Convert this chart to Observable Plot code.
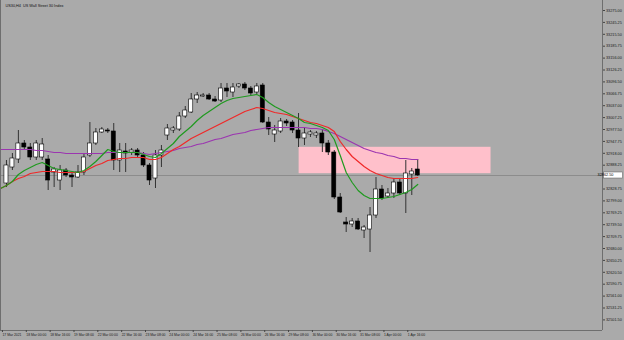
<!DOCTYPE html>
<html><head><meta charset="utf-8">
<script src="https://cdn.jsdelivr.net/npm/d3@7"></script>
<script src="https://cdn.jsdelivr.net/npm/@observablehq/plot@0.6"></script>
<style>
html,body{margin:0;padding:0;background:#aaaaaa;}
#chart{width:624px;height:340px;overflow:hidden;}
</style>
</head><body><div id="chart"></div>
<script>
const title = "US30,H4  US Wall Street 30 Index";

// Candles (bar index = position in array)
const opens  = [32842.5,32882.5,32902.5,32942.5,32932.5,32907.5,32907.5,32902.5,32870,32850,
                32875,32862.5,32857.5,32870,32912.5,32942.5,32970,32975,32972.5,32900,
                32922.5,32920,32925,32912.5,32887.5,32855,32912.5,32962.5,32975,32977.5,
                33010,33020,33052.5,33060,33062.5,33052.5,33050,33080,33070,33085,
                33090,33080,33070,33087.5,32995,32965,32972.5,32997.5,32995,32975,
                32955,32965,32962.5,32967.5,32942.5,32920,32807.5,32745,32740,32747.5,
                32725,32727.5,32762.5,32827.5,32810,32817.5,32845,32817.5,32865,32877.5];
const highs  = [32900,32917.5,32975,32950,32942.5,32950,32955,32912.5,32882.5,32887.5,
                32880,32870,32887.5,32917.5,32995,32980,32982.5,32980,32992.5,32942.5,
                32942.5,32930,32930,32920,32892.5,32925,32937.5,32990,32985,33020,
                33035,33067.5,33070,33067.5,33067.5,33060,33092.5,33092.5,33092.5,33092.5,
                33095,33085,33092.5,33092.5,33007.5,32987.5,33005,33002.5,33000,33017.5,
                32980,32975,32972.5,32975,32950,32925,32817.5,32757.5,32755,32755,
                32737.5,32782.5,32857.5,32837.5,32830,32855,32855,32900,32880,32902.5];
const lows   = [32832.5,32875,32892.5,32925,32900,32900,32900,32825,32832.5,32825,
                32857.5,32832.5,32855,32862.5,32907.5,32937.5,32967.5,32967.5,32875,32870,
                32870,32912.5,32907.5,32882.5,32837.5,32830,32882.5,32950,32967.5,32972.5,
                33005,33017.5,33042.5,33057.5,33050,33045,33045,33057.5,33057.5,33080,
                33075,33062.5,33065,32992.5,32962.5,32945,32967.5,32985,32967.5,32932.5,
                32937.5,32957.5,32955,32920,32912.5,32802.5,32767.5,32720,32732.5,32725,
                32705,32670,32755,32800,32805,32805,32812.5,32767.5,32812.5,32860];
const closes = [32887.5,32905,32942.5,32932.5,32907.5,32942.5,32940,32850,32877.5,32875,
                32862.5,32857.5,32870,32907.5,32942.5,32970,32977.5,32972.5,32900,32925,
                32917.5,32925,32912.5,32887.5,32850,32912.5,32925,32980,32980,33010,
                33025,33052.5,33062.5,33062.5,33052.5,33047.5,33080,33072.5,33082.5,33090,
                33080,33067.5,33085,32995,32977.5,32975,32997.5,32992.5,32975,32955,
                32967.5,32970,32967.5,32942.5,32920,32807.5,32770,32740,32747.5,32727.5,
                32732.5,32762.5,32827.5,32805,32817.5,32845,32817.5,32867.5,32872.5,32862.5];

// Moving averages, first value belongs to bar index -1 (partly off the left edge)
const maFirstBar = -1;
const greenMA = [32830,32837.5,32847.5,32865,32875,32882.5,32890,32895,32887.5,32880,32877.5,
                 32875,32872.5,32870,32875,32885,32897.5,32912.5,32927.5,32922.5,32920,
                 32920,32920,32920,32915,32910,32907.5,32917.5,32930,32942.5,32960,
                 32972.5,32985,33000,33012.5,33022.5,33032.5,33042.5,33050,33055,33057.5,
                 33060,33062.5,33065,33057.5,33045,33035,33027.5,33020,33012.5,33005,
                 32995,32992.5,32987.5,32982.5,32975,32952.5,32912.5,32870,32845,32825,
                 32812.5,32805,32805,32805,32807.5,32810,32815,32820,32827.5,32840];
const redMA   = [32830,32837.5,32847.5,32855,32860,32867.5,32870,32872.5,32872.5,32872.5,32870,
                 32870,32870,32870,32872.5,32880,32887.5,32892.5,32900,32902.5,32905,
                 32905,32907.5,32907.5,32907.5,32902.5,32902.5,32907.5,32917.5,32927.5,32935,
                 32945,32955,32962.5,32970,32977.5,32985,32992.5,33000,33007.5,33015,
                 33022.5,33027.5,33032.5,33030,33025,33020,33017.5,33015,33010,33005,
                 33000,32995,32992.5,32987.5,32982.5,32972.5,32947.5,32927.5,32910,32897.5,
                 32885,32875,32867.5,32862.5,32857.5,32855,32855,32855,32855,32857.5];
const purpleMA= [32927.5,32927.5,32927.5,32927.5,32927.5,32927.5,32925,32925,32922.5,32920,32920,
                 32917.5,32917.5,32917.5,32917.5,32917.5,32917.5,32917.5,32920,32920,32920,
                 32920,32920,32920,32917.5,32915,32917.5,32920,32922.5,32925,32930,
                 32932.5,32935,32940,32942.5,32947.5,32952.5,32955,32960,32965,32967.5,
                 32970,32975,32977.5,32980,32982.5,32982.5,32982.5,32982.5,32982.5,32982.5,
                 32982.5,32980,32980,32977.5,32972.5,32967.5,32960,32952.5,32945,32937.5,
                 32930,32925,32920,32917.5,32912.5,32910,32905,32905,32902.5,32902.5];

// Time axis labels, one every 4 bars
const timeLabels = ["17 Mar 2021","18 Mar 00:00","18 Mar 16:00","19 Mar 08:00","22 Mar 00:00",
  "22 Mar 16:00","23 Mar 08:00","24 Mar 00:00","24 Mar 16:00","25 Mar 08:00","26 Mar 00:00",
  "26 Mar 16:00","29 Mar 08:00","30 Mar 00:00","30 Mar 16:00","31 Mar 08:00","1 Apr 00:00","1 Apr 16:00"];
const barsPerLabel = 4;

// Price axis ticks
const priceTicks = [33275.00,33245.25,33215.50,33185.75,33156.00,33126.25,33096.50,33066.75,
  33037.00,33007.25,32977.50,32947.75,32918.00,32888.25,32858.50,32828.75,32799.00,32769.25,
  32739.50,32709.75,32680.00,32650.25,32620.50,32590.75,32561.00,32531.25,32501.50];

const bidPrice = 32862.5;
const zoneBars = [49.1, 81.3];
const zonePrices = [32867, 32933];

const xDomain = [-1, 100];
const yDomain = [32475, 33300];

// ---- build tables
const candles = opens.map((o, i) => ({i, o, h: highs[i], l: lows[i], c: closes[i], up: closes[i] >= o}));
const ma = greenMA.map((g, k) => ({i: k + maFirstBar, g, r: redMA[k], p: purpleMA[k]}));
const labelBars = timeLabels.map((_, k) => k * barsPerLabel);
const shownTicks = priceTicks.filter(t => Math.abs(t - bidPrice) > 8);

const plot = Plot.plot({
  width: 624, height: 340,
  marginLeft: 0, marginRight: 22, marginTop: 0, marginBottom: 10,
  style: {background: "#aaaaaa", fontFamily: "'Liberation Sans', Arial, sans-serif", fontSize: "3.6px", color: "#1a1a1a"},
  x: {domain: xDomain},
  y: {domain: yDomain},
  marks: [
    Plot.rect([{x1: zoneBars[0], x2: zoneBars[1], y1: zonePrices[0], y2: zonePrices[1]}],
      {x1: "x1", x2: "x2", y1: "y1", y2: "y2", fill: "#ffc0cb"}),
    Plot.ruleY([bidPrice], {stroke: "#8c8c8c", strokeWidth: 1}),
    Plot.ruleX(candles, {x: "i", y1: "l", y2: "h", stroke: "#333", strokeWidth: 1}),
    Plot.rect(candles, {x1: d => d.i - 0.34, x2: d => d.i + 0.34, y1: "o", y2: "c",
      fill: d => d.up ? "#ffffff" : "#000000", stroke: "#000", strokeWidth: 0.6}),
    Plot.line(ma, {x: "i", y: "p", stroke: "#9b35b0", strokeWidth: 1.2}),
    Plot.line(ma, {x: "i", y: "r", stroke: "#f02828", strokeWidth: 1.2}),
    Plot.line(ma, {x: "i", y: "g", stroke: "#1f9a1f", strokeWidth: 1.2}),
    Plot.ruleX([xDomain[0]], {stroke: "#6e6e6e"}),
    Plot.ruleX([xDomain[1]], {stroke: "#6e6e6e"}),
    Plot.ruleY([yDomain[0]], {stroke: "#6e6e6e"}),
    Plot.axisY(shownTicks, {anchor: "right", tickSize: 2, tickPadding: 1.5,
      tickFormat: d => d.toFixed(2), fontSize: 3.8, stroke: "#444"}),
    Plot.axisX(labelBars, {anchor: "bottom", tickSize: 2, tickPadding: 1.5,
      tickFormat: d => timeLabels[d / barsPerLabel], textAnchor: "start", dx: -4, fontSize: 3.4, stroke: "#444"}),
    Plot.text([title], {frameAnchor: "top-left", dx: 5, dy: 4, fontSize: 3.8, fill: "#111", textAnchor: "start"})
  ]
});

// current price box on the price axis
const yPix = plot.scale("y").apply(bidPrice);
const xEdge = plot.scale("x").apply(xDomain[1]);
const svg = d3.select(plot);
svg.append("rect").attr("x", xEdge + 1.5).attr("y", yPix - 3).attr("width", 19).attr("height", 6)
  .attr("fill", "#ffffff").attr("stroke", "#555").attr("stroke-width", 0.5);
svg.append("text").attr("x", xEdge + 3.5).attr("y", yPix).attr("dy", "0.35em")
  .attr("font-size", 3.8).attr("font-family", "'Liberation Sans', Arial, sans-serif")
  .attr("fill", "#000").text(bidPrice.toFixed(2));

document.getElementById("chart").append(plot);
</script>
</body></html>
